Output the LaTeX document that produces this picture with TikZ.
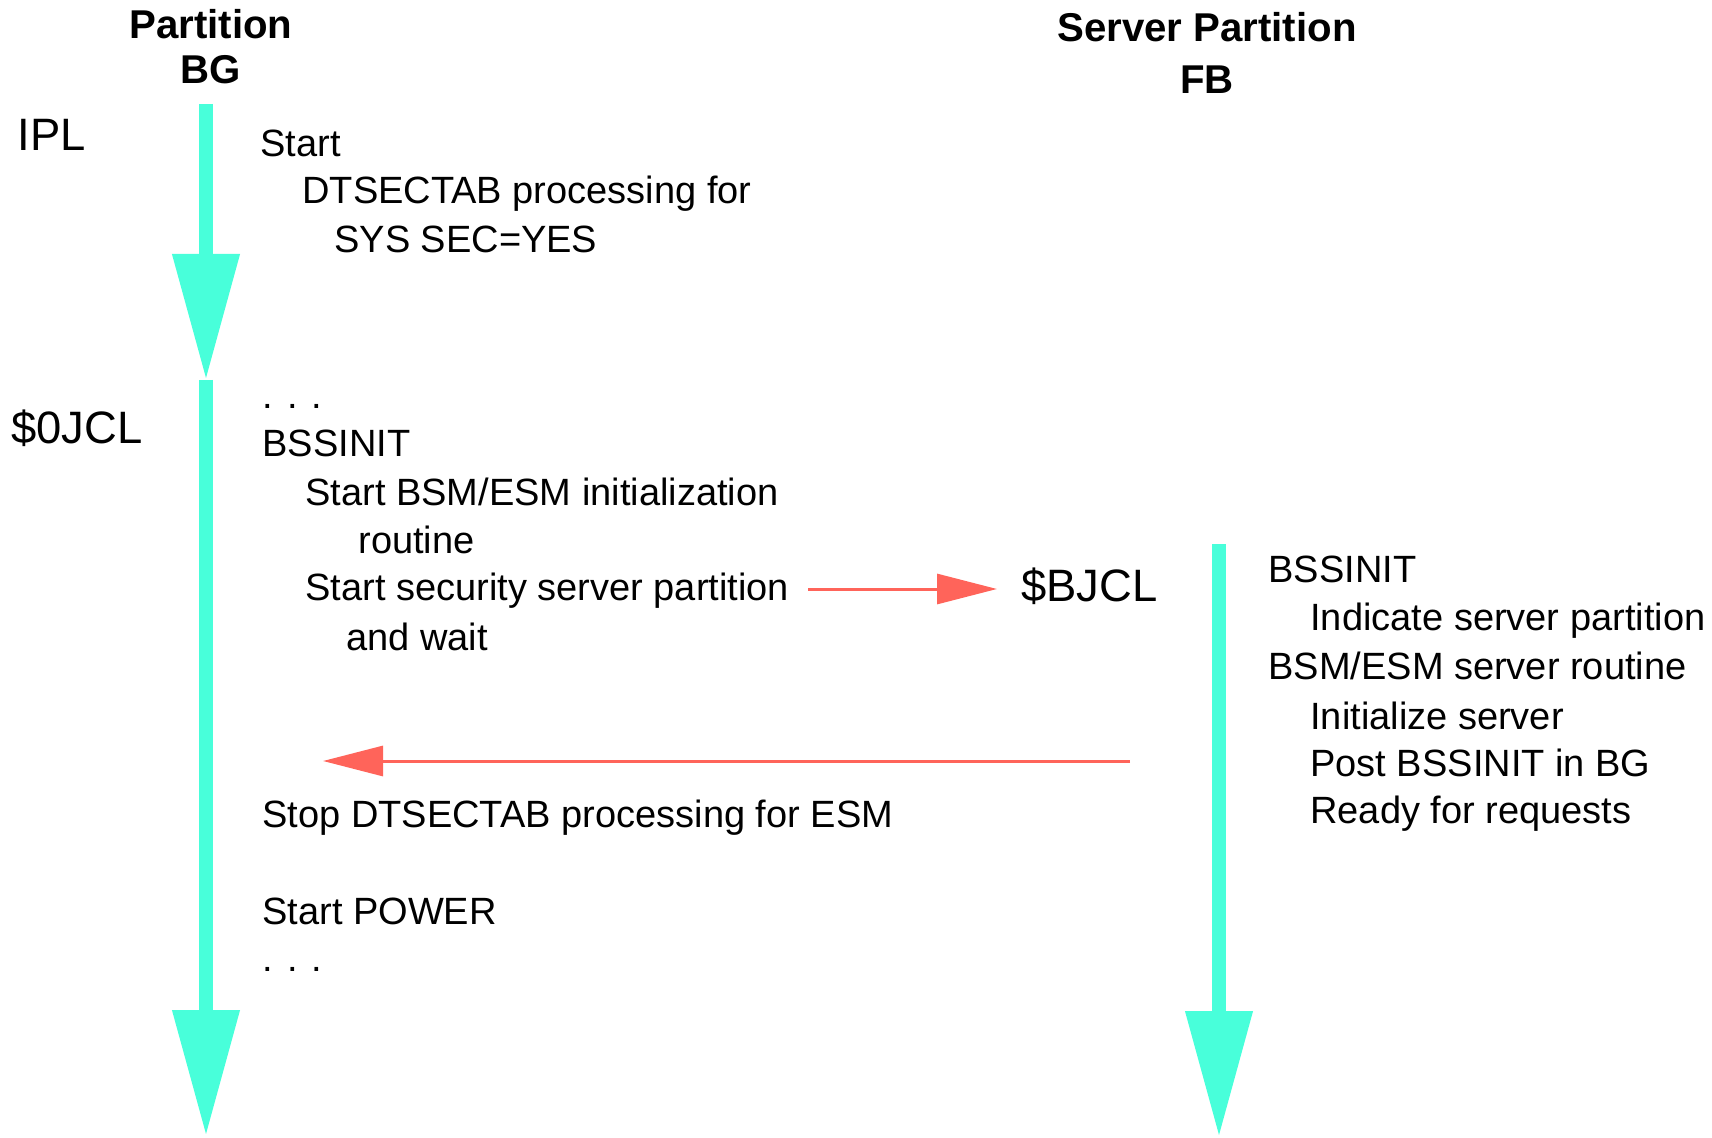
\documentclass[tikz,border=0pt]{standalone}
\usepackage{fontspec}
\setmainfont{Liberation Sans}
\usetikzlibrary{arrows.meta}
\definecolor{flowcyan}{RGB}{72,255,218}
\definecolor{msgred}{RGB}{255,100,90}
\tikzset{
  txt/.style={anchor=west, inner sep=0pt, font=\fontsize{19}{24}\selectfont},
  bigtxt/.style={anchor=west, inner sep=0pt, font=\fontsize{22.7}{27}\selectfont},
  title/.style={inner sep=0pt, font=\fontsize{20.1}{24}\selectfont\bfseries},
  flow/.style={flowcyan, line width=7pt, -{Triangle[length=63pt,width=32pt]}},
  msg/.style={msgred, line width=1.5pt, -{Triangle[length=30pt,width=15pt]}}
}
\begin{document}
\begin{tikzpicture}[x=0.5pt, y=-0.5pt]
    \useasboundingbox (0,0) rectangle (1712,1138);

    \node[title] (bgname) at (211,24) {Partition};
    \node[title] (bgid) at (211,70) {BG};
    \node[title] (fbname) at (1207,27) {Server Partition};
    \node[title] (fbid) at (1207,80) {FB};

    \coordinate (ipltop) at (206,104);
    \coordinate (iplend) at (206,380);
    \coordinate (jcltop) at (206,380);
    \coordinate (jclend) at (206,1136);
    \coordinate (fbtop) at (1219,544);
    \coordinate (fbend) at (1219,1137);
    \draw[flow] (ipltop) -- (iplend);
    \draw[flow] (jcltop) -- (jclend);
    \draw[flow] (fbtop) -- (fbend);

    \node[bigtxt] (ipl) at (17,135) {IPL};
    \node[bigtxt] (ojcl) at (11,428) {\$0JCL};
    \node[bigtxt] (bjcl) at (1021,586) {\$BJCL};

    % partition BG
    \node[txt] (start) at (260,143) {Start};
    \node[txt] (dtsec) at (302,194) {DTSECTAB processing for};
    \node[txt] (syssec) at (334,239) {SYS SEC=YES};
    \node[txt] (dotsa) at (262,406) {. . .};
    \node[txt] (bssbg) at (262,443) {BSSINIT};
    \node[txt] (esminit) at (305,492) {Start BSM/ESM initialization};
    \node[txt] (routine) at (358,540) {routine};
    \node[txt] (secsrv) at (305,591) {Start security server partition};
    \node[txt] (wait) at (346,637) {and wait};
    \node[txt] (stopdt) at (262,818) {Stop DTSECTAB processing for ESM};
    \node[txt] (power) at (262,911) {Start POWER};
    \node[txt] (dotsb) at (262,969) {. . .};

    % server partition FB
    \node[txt] (bssfb) at (1268,569) {BSSINIT};
    \node[txt] (indic) at (1310,621) {Indicate server partition};
    \node[txt] (srvrt) at (1268,666) {BSM/ESM server routine};
    \node[txt] (initsrv) at (1310,716) {Initialize server};
    \node[txt] (post) at (1310,763) {Post BSSINIT in BG};
    \node[txt] (ready) at (1310,814) {Ready for requests};

    \coordinate (callfrom) at (808,589);
    \coordinate (callto) at (997,589);
    \coordinate (postfrom) at (1130,761);
    \coordinate (postto) at (323,761);
    \draw[msg] (callfrom) -- (callto);
    \draw[msg] (postfrom) -- (postto);
\end{tikzpicture}
\end{document}
